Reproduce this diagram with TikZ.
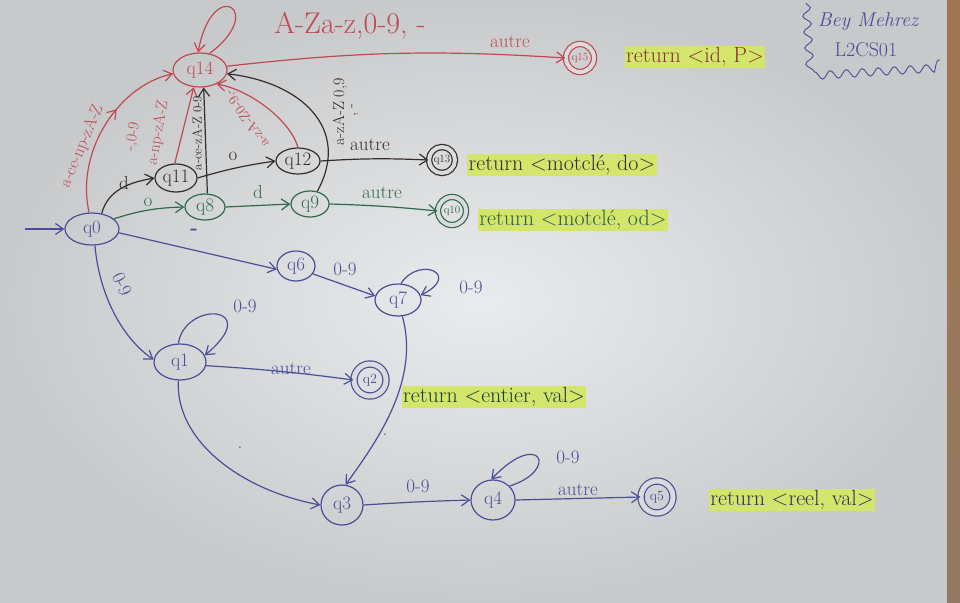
\documentclass[tikz,border=0pt]{standalone}
\usepackage{fontspec}
\usetikzlibrary{shapes.geometric,arrows.meta,decorations.markings,decorations.pathmorphing}
\definecolor{pen}{HTML}{4B4E98}
\definecolor{rouge}{HTML}{C04A52}
\definecolor{vert}{HTML}{2F6A4A}
\definecolor{noir}{HTML}{352C2C}
\definecolor{papier}{HTML}{D9DBDD}
\definecolor{surligne}{HTML}{D4E56C}
\definecolor{bois}{HTML}{A27650}
\begin{document}
\begin{tikzpicture}[x=1pt,y=-1pt,line width=1.2pt,
  >={Straight Barb[length=8pt,width=11pt]},
  st/.style={ellipse,draw,inner sep=0pt,font=\fontsize{19}{19}\selectfont},
  acc/.style={circle,draw,double=papier,double distance=4pt,inner sep=0pt,font=\fontsize{11}{11}\selectfont},
  lab/.style={font=\fontsize{19}{19}\selectfont,inner sep=1pt},
  small/.style={font=\fontsize{16}{16}\selectfont,inner sep=0.5pt,align=center},
  ret/.style={fill=surligne,inner sep=1.5pt,font=\fontsize{22}{22}\selectfont},
  midarrow/.style={postaction={decorate},decoration={markings,mark=at position 0.62 with {\arrow{>}}}}]
% paper
\shade[inner color=papier!55!white,outer color=papier!92!black] (0,0) rectangle (960,602);
\shade[top color=bois,bottom color=bois!60!gray] (947,0) rectangle (960,602);
\useasboundingbox (0,0) rectangle (960,602);

% signature
\node[pen,font=\itshape\fontsize{20}{20}\selectfont] (sig1) at (868,22) {Bey Mehrez};
\node[pen,font=\fontsize{20}{20}\selectfont] (sig2) at (866,50) {L2CS01};
\draw[pen,line width=0.9pt,decorate,decoration={snake,amplitude=4pt,segment length=16pt}]
  (806,3) -- (810,68) -- (940,60);

% states
\node[st,pen,minimum width=54,minimum height=32] (q0) at (92,229) {q0};
\node[st,rouge,minimum width=54,minimum height=34] (q14) at (200,70) {q14};
\node[acc,rouge,minimum size=28] (q15) at (580,58) {q15};
\node[st,noir,minimum width=42,minimum height=28] (q11) at (176,178) {q11};
\node[st,noir,minimum width=44,minimum height=26] (q12) at (298,161) {q12};
\node[acc,noir,minimum size=26] (q13) at (442,160) {q13};
\node[st,vert,minimum width=40,minimum height=26] (q8) at (205,207) {q8};
\node[st,vert,minimum width=38,minimum height=26] (q9) at (310,204) {q9};
\node[acc,vert,minimum size=28] (q10) at (452,211) {q10};
\node[st,pen,minimum width=38,minimum height=30] (q6) at (296,266) {q6};
\node[st,pen,minimum width=46,minimum height=32] (q7) at (398,300) {q7};
\node[st,pen,minimum width=52,minimum height=36] (q1) at (180,362) {q1};
\node[acc,pen,minimum size=32,double distance=5pt,font=\fontsize{14}{14}\selectfont] (q2) at (370,380) {q2};
\node[st,pen,minimum width=42,minimum height=40] (q3) at (342,505) {q3};
\node[st,pen,minimum width=44,minimum height=40] (q4) at (493,500) {q4};
\node[acc,pen,minimum size=32,double distance=5pt,font=\fontsize{14}{14}\selectfont] (q5) at (657,497) {q5};

% return texts
\node[ret,text=rouge!70!black] (r15) at (695,57) {return <id, P>};
\node[ret,text=noir] (r13) at (562,165) {return <motclé, do>};
\node[ret,text=vert!90!black] (r10) at (573,220) {return <motclé, od>};
\node[ret,text=vert!60!black] (r2) at (494,397) {return <entier, val>};
\node[ret,text=pen!60!black] (r5) at (792,500) {return <reel, val>};

% start
\coordinate (start) at (25,229);
\draw[pen,->] (start) -- (q0.west);

% red (identifiers)
\draw[rouge,->,midarrow] (q0.100) .. controls (75,150) and (120,85) .. (q14.188);
\node[small,rouge,rotate=67,font=\fontsize{17}{17}\selectfont] (l0) at (82,146) {a-ce-np-zA-Z};
\draw[rouge,->] (q14.60) .. controls (268,10) and (212,-25) .. (q14.96);
\node[rouge,font=\fontsize{30}{30}\selectfont] (lloop) at (350,26) {A-Za-z,0-9, -};
\draw[rouge,->] (q14.8) to[bend left=5] (q15.west);
\node[lab,rouge] (l15) at (510,42) {autre};
\draw[rouge,->] (q11.95) -- (q14.250);
\node[small,rouge,rotate=80] (l11a) at (133,137) {-,0-9};
\node[small,rouge,rotate=80] (l11b) at (158,133) {a-np-zA-Z};
\draw[rouge,->] (q12.north) .. controls (290,120) and (250,90) .. (q14.-40);
\node[small,rouge,rotate=125,font=\fontsize{14}{14}\selectfont] (l12) at (247,118) {a-zA-Z0-9,-};

% black
\draw[noir,->] (q8.80) -- (q14.282);
\node[small,noir,rotate=90,font=\fontsize{13}{13}\selectfont] (l8) at (197,133) {a-ce-zA-Z 0-9};
\draw[noir,->] (q9.60) .. controls (352,128) and (300,82) .. (q14.-8);
\node[small,noir,rotate=90] (l9a) at (340,112) {a-zA-Z 0,9};
\node[small,noir,rotate=90] (l9b) at (355,110) {, -};
\draw[noir,->] (q0.58) to[out=75,in=190] (q11.west);
\node[lab,noir] (ld) at (124,183) {d};
\draw[noir,->] (q11.east) to[bend left=4] (q12.west);
\node[lab,noir] (lo) at (233,156) {o};
\draw[noir,->] (q12.east) to[bend left=3] (q13.west);
\node[lab,noir] (l13) at (370,145) {autre};

% green
\draw[vert,->] (q0.25) to[bend left=8] (q8.west);
\node[lab,vert] (lo2) at (148,202) {o};
\draw[vert,->] (q8.east) -- (q9.west);
\node[lab,vert] (ld2) at (258,192) {d};
\draw[vert,->] (q9.east) to[bend left=2] (q10.west);
\node[lab,vert] (l10) at (382,193) {autre};

% blue
\draw[pen,->] (q0.-8) -- (q6.190);
\node[pen,font=\bfseries\fontsize{20}{20}\selectfont] (lm) at (194,232) {-};
\draw[pen,->] (q6.-25) -- (q7.170);
\node[lab,pen] (l67) at (345,269) {0-9};
\draw[pen,->] (q7.80) .. controls (420,255) and (462,275) .. (q7.12);
\node[lab,pen] (l77) at (471,287) {0-9};
\draw[pen,->] (q0.-80) .. controls (100,300) and (125,340) .. (q1.175);
\node[lab,pen,rotate=-65] (l01) at (122,284) {0-9};
\draw[pen,->] (q1.95) .. controls (185,300) and (265,305) .. (q1.15);
\node[lab,pen] (l11) at (245,306) {0-9};
\draw[pen,->] (q1.-8) to[bend left=2] (q2.west);
\node[lab,pen] (l12b) at (291,369) {autre};
\draw[pen,->] (q1.-95) .. controls (175,440) and (240,490) .. (q3.west);
\node[lab,pen] (ldot1) at (240,448) {.};
\draw[pen,->] (q7.-75) .. controls (420,380) and (378,440) .. (q3.80);
\node[lab,pen] (ldot2) at (385,435) {.};
\draw[pen,->] (q3.east) to[bend left=1] (q4.west);
\node[lab,pen] (l34) at (418,486) {0-9};
\draw[pen,->] (q4.40) .. controls (560,470) and (540,428) .. (q4.95);
\node[lab,pen] (l44) at (568,457) {0-9};
\draw[pen,->] (q4.east) -- (q5.west);
\node[lab,pen] (l45) at (578,490) {autre};
\end{tikzpicture}
\end{document}
